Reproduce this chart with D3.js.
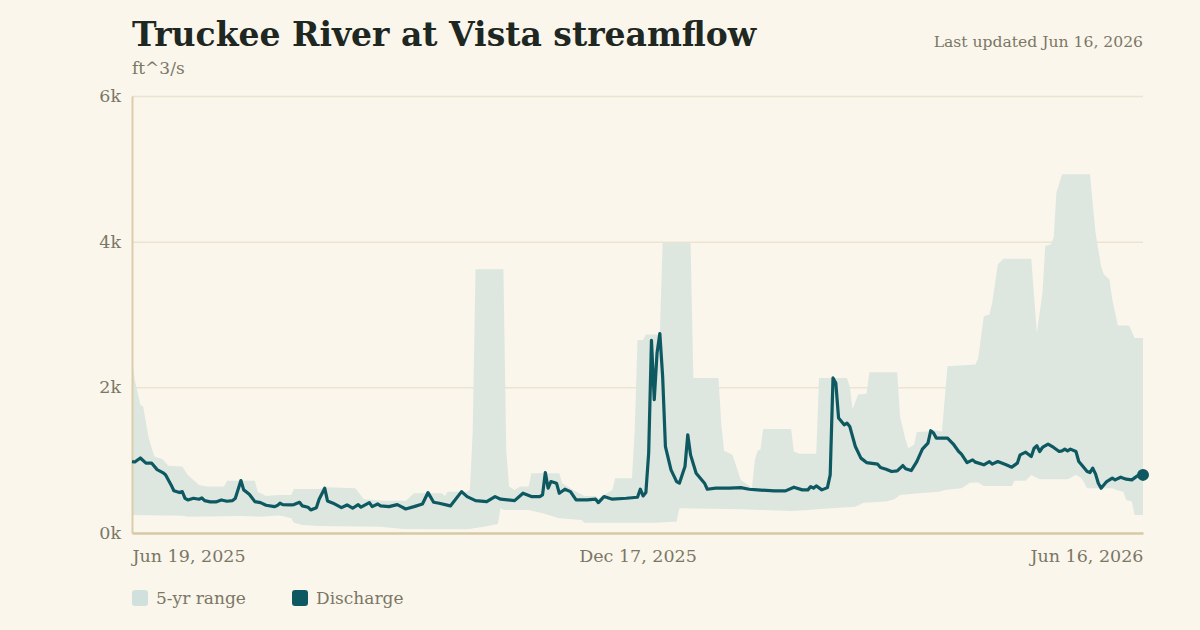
<!DOCTYPE html>
<html>
<head>
<meta charset="utf-8">
<script src="https://cdn.jsdelivr.net/npm/d3@7"></script>
<style>
  html, body { margin: 0; padding: 0; background: #faf6ec; }
  svg { display: block; }
  text { font-family: "DejaVu Serif", serif; }
</style>
</head>
<body>
<div id="chart-area"></div>
<script>
// days counted from Jun 19, 2025
const startDate = new Date(2025, 5, 19);

// daily discharge, ft^3/s
const flowDays = [0,1,3,5,7,9,11,12,14,15,
  17,18,19,20,22,24,25,26,28,30,
  32,34,36,37,39,40,42,44,46,48,
  51,52,53,54,57,58,60,61,63,64,
  66,67,69,70,72,75,77,79,81,82,
  85,86,88,89,92,95,98,101,104,106,
  108,110,114,118,120,123,127,130,132,137,
  140,143,146,147,148,149,150,152,153,155,
  157,159,163,166,167,169,172,177,181,182,
  183,184,185,186,187,188,189,190,191,193,
  195,196,198,199,200,202,205,206,209,214,
  218,221,224,230,234,237,240,242,243,244,
  245,247,249,250,251,252,253,255,256,257,
  259,261,263,267,268,270,272,274,276,277,
  279,281,283,285,286,287,288,292,294,296,
  297,299,301,302,305,307,308,310,313,315,
  317,318,320,322,323,324,325,326,328,330,
  332,333,334,335,336,338,339,340,342,343,
  344,345,346,347,349,351,352,354,356,358,
  360,362];
const flowValues = [980,975,1030,960,960,870,830,800,660,580,
  555,568,477,454,477,464,482,444,427,427,
  454,436,444,477,720,592,532,431,417,381,
  362,376,409,390,385,390,422,372,354,316,
  348,464,615,440,409,348,385,340,390,354,
  417,362,399,372,362,390,330,362,399,555,
  422,409,372,568,500,444,431,500,464,444,
  546,500,500,523,830,615,706,684,546,601,
  568,454,454,464,417,500,464,477,491,601,
  509,555,1097,2646,1830,2473,2738,2151,1187,867,
  706,684,912,1349,1073,821,684,601,615,615,
  623,601,592,578,578,629,592,592,637,615,
  647,592,623,798,2129,2060,1578,1486,1509,1463,
  1187,1028,967,945,899,876,844,853,926,881,
  857,981,1152,1234,1404,1372,1303,1303,1225,1119,
  1083,967,1004,973,936,981,945,981,936,904,
  959,1073,1110,1050,1165,1197,1119,1174,1220,1174,
  1119,1128,1152,1128,1152,1119,981,936,844,830,
  890,812,684,615,706,752,729,766,739,729,
  784,798];

// 5-yr range, top edge
const rangeHighDays = [0,1,3,4,6,8,11,13,18,20,
  24,27,33,34,44,45,48,52,57,58,
  67,70,80,83,90,98,101,111,112,113,
  120,121,122,123,133,134,135,137,139,142,
  143,153,154,158,162,166,167,169,172,173,
  179,180,181,183,184,189,190,200,201,210,
  211,212,215,218,222,223,224,225,226,236,
  237,239,245,246,256,257,258,260,263,264,
  274,275,277,278,280,281,285,286,290,292,
  302,303,305,307,308,310,312,322,323,324,
  326,327,329,330,331,332,333,343,345,347,
  348,350,351,353,357,359,362];
const rangeHighValues = [2400,2100,1760,1738,1300,1050,1014,922,912,798,
  660,637,637,716,716,568,509,523,523,605,
  605,629,615,464,444,444,546,546,509,568,
  568,600,1400,3620,3620,1142,637,592,637,637,
  821,821,684,592,509,509,477,523,592,752,
  752,1400,2646,2650,2725,2725,3986,3986,2129,2129,
  1500,1130,1073,729,620,1004,1128,1142,1427,1427,
  1119,1087,1087,2129,2129,2013,1700,1900,1913,2206,
  2206,1600,1280,1165,1211,1386,1394,1417,1394,2288,
  2312,2400,2976,3000,3161,3688,3766,3766,3252,2748,
  3298,3940,3963,4055,4674,4800,4926,4926,4124,3664,
  3550,3481,3206,2848,2848,2679,2679];

// 5-yr range, bottom edge
const rangeLowDays = [0,18,20,39,46,52,54,57,58,61,
  67,89,97,115,120,126,131,132,133,142,
  147,153,161,162,187,194,195,196,218,225,
  236,242,253,259,262,270,273,275,282,289,
  291,297,300,303,305,315,316,320,322,325,
  335,338,340,342,351,353,355,356,358,359,
  362];
const rangeLowValues = [248,238,224,234,224,240,234,202,142,110,
  96,87,55,51,51,87,124,345,316,316,
  271,202,179,142,142,156,156,340,326,316,
  303,316,348,362,417,431,464,523,546,568,
  592,615,690,692,647,647,716,716,798,739,
  739,798,752,615,615,582,568,454,431,248,
  248];

const yTicks = [0, 2000, 4000, 6000];
const xTickDays = [0, 181, 362];

const toDate = d => d3.timeDay.offset(startDate, d);

const margin = {top: 96, right: 57, bottom: 97, left: 132},
    width = 1200 - margin.left - margin.right,
    height = 630 - margin.top - margin.bottom;

const root = d3.select("#chart-area")
  .append("svg")
    .attr("width", 1200)
    .attr("height", 630);

const svg = root.append("g")
    .attr("transform", `translate(${margin.left}, ${margin.top})`);

const x = d3.scaleTime()
  .domain([toDate(0), toDate(362)])
  .range([0, width]);

const y = d3.scaleLinear()
  .domain([0, 6000])
  .range([height, 0]);

// header
root.append("text")
  .attr("x", margin.left).attr("y", 46)
  .style("font-size", "33px").style("font-weight", "bold")
  .attr("fill", "#1e2721")
  .text("Truckee River at Vista streamflow");
root.append("text")
  .attr("x", margin.left).attr("y", 74)
  .style("font-size", "17px")
  .attr("fill", "#7b7665")
  .text("ft^3/s");
root.append("text")
  .attr("x", margin.left + width).attr("y", 47)
  .attr("text-anchor", "end")
  .style("font-size", "15.6px")
  .attr("fill", "#7b7665")
  .text("Last updated Jun 16, 2026");

// gridlines
svg.append("g")
  .call(d3.axisLeft(y).tickValues(yTicks.slice(1)).tickSize(-width).tickFormat(""))
  .call(g => g.select(".domain").remove())
  .selectAll("line")
    .attr("stroke", "#ece3d1")
    .attr("stroke-width", 1.5);

// 5-yr range band: top edge forward, bottom edge back
const bandPoints = rangeHighDays.map((d, i) => [toDate(d), rangeHighValues[i]])
  .concat(rangeLowDays.map((d, i) => [toDate(d), rangeLowValues[i]]).reverse());
const bandLine = d3.line().x(d => x(d[0])).y(d => y(d[1]));

svg.append("path")
  .datum(bandPoints)
  .attr("fill", "#dde7e0")
  .attr("d", d => bandLine(d) + "Z");

// axes
svg.append("g")
  .call(d3.axisLeft(y).tickValues(yTicks).tickSize(0).tickPadding(11)
    .tickFormat(d => (d / 1000) + "k"))
  .call(g => g.select(".domain").attr("stroke", "#d9cdaa").attr("stroke-width", 2))
  .selectAll("text")
    .style("font-size", "17.5px")
    .style("font-family", "DejaVu Serif, serif")
    .attr("fill", "#7b7665");

const xAxis = svg.append("g")
  .attr("transform", `translate(0, ${height})`)
  .call(d3.axisBottom(x).tickValues(xTickDays.map(toDate)).tickSize(0).tickPadding(17)
    .tickFormat(d3.timeFormat("%b %-d, %Y")))
  .call(g => g.select(".domain").attr("stroke", "#d6c9a3").attr("stroke-width", 2.5));
xAxis.selectAll("text")
  .style("font-size", "17.5px")
  .style("font-family", "DejaVu Serif, serif")
  .attr("fill", "#7b7665")
  .attr("text-anchor", (d, i) => i === 0 ? "start" : i === 2 ? "end" : "middle");

// discharge line
const flow = flowDays.map((d, i) => ({date: toDate(d), value: flowValues[i]}));

svg.append("path")
  .datum(flow)
  .attr("fill", "none")
  .attr("stroke", "#0e5961")
  .attr("stroke-width", 3.2)
  .attr("stroke-linejoin", "round")
  .attr("d", d3.line().x(d => x(d.date)).y(d => y(d.value)));

const last = flow[flow.length - 1];
svg.append("circle")
  .attr("cx", x(last.date))
  .attr("cy", y(last.value))
  .attr("r", 6)
  .attr("fill", "#0e5961");

// legend
const legend = root.append("g").attr("transform", "translate(132, 590)");
const items = [["5-yr range", "#d0e1dd"], ["Discharge", "#0e5961"]];
items.forEach((it, i) => {
  const g = legend.append("g").attr("transform", `translate(${i * 160}, 0)`);
  g.append("rect").attr("width", 16).attr("height", 16).attr("rx", 3).attr("fill", it[1]);
  g.append("text").attr("x", 24).attr("y", 13.5)
    .style("font-size", "17px").attr("fill", "#7b7665").text(it[0]);
});
</script>
</body>
</html>
